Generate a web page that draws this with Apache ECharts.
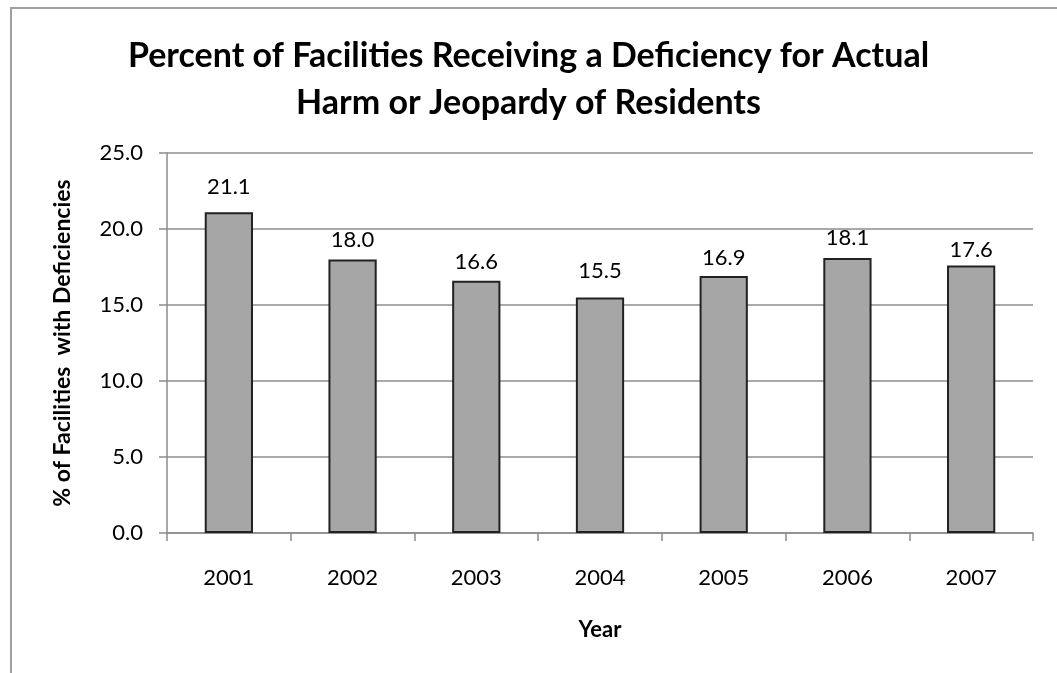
<!DOCTYPE html>
<html><head><meta charset="utf-8">
<script src="https://cdn.jsdelivr.net/npm/echarts@6/dist/echarts.min.js"></script>
<style>html,body{margin:0;padding:0;background:#fff}#c{width:1057px;height:673px}</style>
</head><body><div id="c"></div>
<script>
var titleText = 'Percent of Facilities Receiving a Deficiency for Actual\nHarm or Jeopardy of Residents';
var categories = ['2001','2002','2003','2004','2005','2006','2007'];
var values = [21.1, 18.0, 16.6, 15.5, 16.9, 18.1, 17.6];
var yTicks = {min: 0, max: 25, interval: 5};
var yName = '% of Facilities  with Deficiencies';
var xName = 'Year';

// per-bar label gaps (styling, not data)
var labelGaps = [14, 8, 8, 15, 7, 9, 5];

var chart = echarts.init(document.getElementById('c'), null, {renderer: 'canvas'});
var font = 'Lato, "Open Sans", sans-serif';
chart.setOption({
  animation: false,
  backgroundColor: '#fff',
  graphic: [{type: 'rect', shape: {x: 11, y: 8, width: 1060, height: 700}, style: {fill: 'none', stroke: '#a0a0a0', lineWidth: 2}, silent: true}],
  title: {text: titleText, left: 'center', top: 28, textStyle: {fontFamily: font, fontSize: 34, fontWeight: 'bold', color: '#000', lineHeight: 47}},
  grid: {left: 167, right: 24, top: 153, bottom: 140, containLabel: false},
  xAxis: {
    type: 'category', data: categories,
    name: xName, nameLocation: 'middle', nameGap: 86,
    nameTextStyle: {fontFamily: font, fontSize: 22, fontWeight: 'bold', color: '#000'},
    axisLine: {lineStyle: {color: '#8c8c8c', width: 1.5}},
    axisTick: {show: true, length: 8, lineStyle: {color: '#8c8c8c', width: 1.5}},
    axisLabel: {fontFamily: font, fontSize: 22, color: '#000', margin: 34}
  },
  yAxis: {
    type: 'value', min: yTicks.min, max: yTicks.max, interval: yTicks.interval,
    name: yName, nameLocation: 'middle', nameGap: 93, nameRotate: 90,
    nameTextStyle: {fontFamily: font, fontSize: 23, fontWeight: 'bold', color: '#000'},
    axisLine: {show: true, lineStyle: {color: '#8c8c8c', width: 1.5}},
    axisTick: {show: true, length: 8, lineStyle: {color: '#8c8c8c', width: 1.5}},
    splitLine: {lineStyle: {color: '#8c8c8c', width: 1.5}},
    axisLabel: {fontFamily: font, fontSize: 22, color: '#000', margin: 24, formatter: function(v){return v.toFixed(1);}}
  },
  series: [{
    type: 'bar', barWidth: '39%',
    data: values.map(function(v, i){ return {value: v, label: {distance: labelGaps[i]}}; }),
    itemStyle: {color: '#a6a6a6', borderColor: '#222', borderWidth: 2},
    label: {show: true, position: 'top', fontFamily: font, fontSize: 22, color: '#000', formatter: function(p){return p.value.toFixed(1);}}
  }]
});
</script></body></html>
